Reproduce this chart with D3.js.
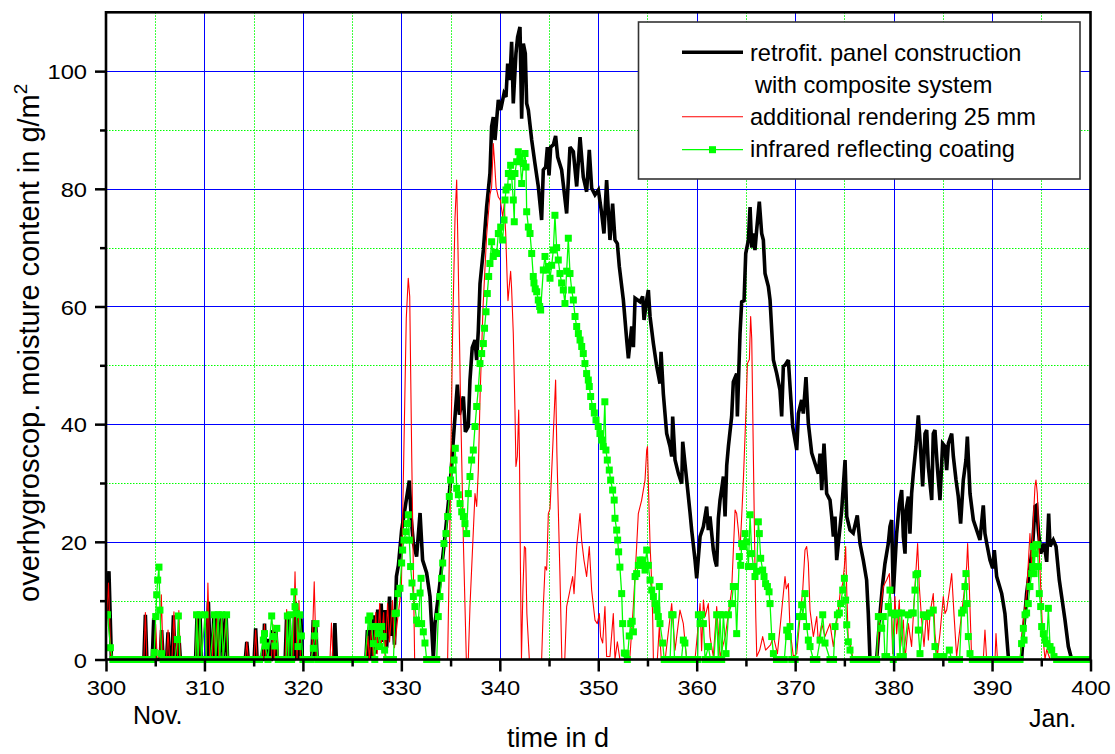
<!DOCTYPE html>
<html>
<head>
<meta charset="utf-8">
<script src="https://cdn.jsdelivr.net/npm/d3@7"></script>
<style>
  html, body { margin: 0; padding: 0; background: #ffffff; }
  svg { display: block; font-family: "Liberation Sans", Arial, Helvetica, sans-serif; }
</style>
</head>
<body>
<svg id="chart" width="1115" height="754"></svg>
<script>
// ---- data: day of year (d) and overhygroscopic moisture content (g/m²) ----
const retrofitPanel = [
  [300.0,7.6],[300.3,15.0],[300.55,0],
  [303.85,0],[304.0,7.6],[304.15,0],
  [304.7,0],[304.85,7.0],[305.0,0],
  [305.5,0],[305.65,5.0],[305.8,0],
  [306.15,0],[306.3,4.6],[306.45,0],
  [306.7,0],[306.85,7.5],[307.0,0],
  [307.25,0],[307.4,4.0],[307.55,0],
  [309.1,0],[309.25,7.6],[309.4,0],[309.55,7.6],[309.7,0],
  [310.25,0],[310.4,9.8],[310.6,0],
  [310.8,0],[310.95,7.6],[311.1,0],[311.3,7.6],[311.45,0],[311.75,7.6],[311.9,0],[312.2,7.6],[312.35,0],
  [314.15,0],[314.3,3.0],[314.45,0],
  [315.05,0],[315.2,5.3],[315.35,0],
  [315.95,0],[316.1,6.1],[316.25,0],[316.45,3.5],[316.6,0],
  [316.8,0],[316.95,5.0],[317.1,0],[317.25,5.6],[317.4,0],
  [318.2,0],[318.35,7.6],[318.5,0],[318.6,7.8],[318.75,0],
  [319.05,0],[319.2,9.8],[319.35,0],[319.5,8.4],[319.65,0],[319.8,7.0],[319.95,0],
  [320.9,0],[321.05,6.7],[321.2,0],[321.3,6.0],[321.45,0],
  [323.1,0],[323.25,6.2],[323.4,0],
  [326.4,0],[326.55,5.0],[326.7,0],[326.9,6.5],[327.05,0],[327.2,7.5],[327.35,1.0],[327.6,8.5],
  [327.75,2.0],[327.95,9.5],[328.1,3.0],[328.35,8.4],[328.5,2.0],[328.8,10.7],[328.95,4.0],
  [329.15,8.5],[329.3,2.5],[329.5,14.1],[329.7,16.0],[330.03,22.0],[330.4,26.0],[330.81,30.4],
  [331.0,24.0],[331.22,19.8],[331.55,17.5],[331.9,24.9],[332.16,16.9],[332.57,14.7],[332.91,10.7],
  [333.25,0.2],[333.42,6.2],[333.92,13.0],[334.43,20.9],[334.94,29.4],[335.35,39.0],[335.69,46.7],
  [335.89,41.6],[336.3,44.7],[336.5,38.7],[336.8,39.6],[336.97,47.5],[337.2,53.0],[337.48,54.3],
  [337.65,50.9],[337.82,56.0],[337.99,63.9],[338.33,69.6],[338.66,76.9],[339.0,82.6],[339.17,90.6],
  [339.34,92.2],[339.51,88.3],[339.85,95.1],[340.09,93.4],[340.43,96.2],[340.63,95.6],[340.8,101.3],
  [341.03,98.5],[341.2,105.0],[341.37,94.5],[341.64,103.0],[341.81,105.8],[342.05,107.5],[342.22,91.9],
  [342.39,104.7],[342.59,103.0],[342.73,94.5],[342.9,93.4],[343.24,88.3],[343.57,84.3],[343.91,80.4],
  [344.25,74.7],[344.42,83.2],[344.66,83.7],[344.83,87.1],[345.0,82.3],[345.17,87.1],[345.44,87.5],
  [345.67,89.0],[345.88,85.4],[346.28,83.2],[346.79,75.8],[347.13,87.1],[347.47,86.3],[347.81,80.4],
  [348.15,88.8],[348.48,82.0],[348.82,79.5],[349.09,86.6],[349.33,80.1],[349.67,79.0],[350.01,79.8],
  [350.35,75.8],[350.58,72.4],[350.85,81.5],[351.19,71.3],[351.46,77.5],[351.7,71.3],[351.94,70.7],
  [352.14,66.8],[352.55,61.1],[352.89,54.3],[353.06,51.2],[353.4,56.6],[353.57,53.1],[353.74,61.4],
  [354.24,60.8],[354.51,61.7],[354.65,57.7],[354.92,61.1],[355.09,62.8],[355.26,58.3],[355.6,53.7],
  [355.94,49.8],[356.27,46.9],[356.38,52.3],[356.61,45.2],[356.95,38.4],[357.29,36.2],[357.46,34.5],
  [357.56,41.3],[357.8,33.9],[358.14,31.6],[358.48,29.9],[358.58,37.0],[358.81,33.3],[359.05,29.4],
  [359.32,25.0],[359.49,22.0],[359.83,16.9],[360.0,13.8],[360.34,20.9],[360.68,22.6],[361.01,26.0],
  [361.18,22.0],[361.35,24.3],[361.69,18.6],[361.86,16.9],[362.03,15.8],[362.2,24.0],[362.37,27.1],
  [362.54,29.0],[362.71,31.1],[362.88,24.3],[363.05,33.0],[363.22,36.2],[363.55,41.3],[363.72,47.2],
  [364.06,48.6],[364.13,41.3],[364.4,55.4],[364.57,60.8],[364.81,61.0],[364.98,69.0],[365.25,71.3],
  [365.42,76.9],[365.59,70.0],[365.76,72.4],[365.92,69.6],[366.09,73.0],[366.36,77.8],[366.6,72.4],
  [366.77,71.3],[366.94,65.6],[367.28,63.4],[367.45,61.1],[367.62,56.0],[367.79,50.9],[368.13,48.6],
  [368.46,45.8],[368.63,41.3],[368.8,49.8],[368.97,50.0],[369.31,50.9],[369.48,46.4],[369.75,39.6],
  [370.16,35.6],[370.33,41.8],[370.66,44.1],[370.83,41.8],[371.1,48.0],[371.34,40.1],[371.68,35.1],
  [372.02,33.3],[372.36,31.6],[372.53,35.0],[372.7,28.8],[372.93,36.7],[373.2,28.2],[373.54,27.1],
  [373.71,24.3],[373.88,20.9],[374.05,24.3],[374.22,16.9],[374.39,19.7],[374.73,25.4],[375.07,33.9],
  [375.24,24.3],[375.57,22.0],[375.9,21.5],[376.31,24.5],[376.59,19.7],[376.92,16.9],[377.26,13.5],
  [377.43,7.8],[377.6,0],[378.28,0],[378.62,7.8],[378.89,12.9],[379.12,16.3],[379.29,18.0],
  [379.46,19.7],[379.63,22.6],[379.8,23.7],[379.97,11.2],[380.31,21.4],[380.58,26.5],[380.82,28.8],
  [380.99,20.9],[381.16,18.0],[381.26,25.4],[381.5,27.7],[381.66,21.4],[381.83,28.2],[382.0,31.6],
  [382.27,36.2],[382.51,41.5],[382.75,35.6],[382.95,29.4],[383.19,38.4],[383.36,39.0],[383.53,32.8],
  [383.87,27.1],[384.03,38.4],[384.2,39.0],[384.44,32.8],[384.71,27.1],[384.98,36.7],[385.22,36.2],
  [385.39,32.2],[385.56,36.7],[385.9,38.4],[386.07,34.5],[386.34,30.5],[386.57,27.7],[386.81,23.1],
  [387.08,30.5],[387.35,33.9],[387.49,37.9],[387.76,28.2],[388.1,23.7],[388.44,22.0],[388.77,20.3],
  [389.11,26.2],[389.28,21.4],[389.52,19.2],[389.79,16.9],[390.06,15.5],[390.23,18.6],[390.47,14.1],
  [390.98,11.2],[391.31,7.8],[391.65,0.5],[391.82,0],[393.0,0],[393.18,4.4],[393.51,11.2],
  [393.85,15.8],[394.12,19.2],[394.36,26.0],[394.53,26.2],[394.7,22.0],[394.94,18.0],[395.28,19.7],
  [395.55,16.6],[395.75,24.8],[395.89,19.2],[396.22,20.3],[396.5,19.2],[396.83,13.5],[397.07,10.7],
  [397.41,6.7],[397.75,2.2],[398.09,0],[400.0,0]
];

const additionalRendering = [
  [300.0,5.0],[300.25,13.0],[300.5,0],
  [303.85,0],[304.0,8.0],[304.15,0],
  [304.9,0],[305.05,6.0],[305.2,0],[305.45,0],[305.62,11.0],[305.8,0],
  [306.15,0],[306.3,5.0],[306.45,0],[306.7,0],[306.9,8.1],[307.05,0],[307.25,0],[307.4,8.3],[307.55,0],
  [309.1,0],[309.25,7.6],[309.4,0],[309.55,7.6],[309.7,0],
  [310.2,0],[310.35,13.0],[310.55,0],
  [310.8,0],[310.95,7.6],[311.1,0],[311.3,8.0],[311.45,0],[311.75,7.6],[311.9,0],[312.2,8.0],[312.35,0],
  [314.15,0],[314.3,3.0],[314.45,0],
  [315.05,0],[315.2,5.0],[315.35,0],
  [315.95,0],[316.1,6.0],[316.25,0],
  [316.8,0],[316.95,6.0],[317.1,0],[317.3,5.0],[317.45,0],
  [318.2,0],[318.35,8.5],[318.5,0],
  [319.0,0],[319.2,14.9],[319.4,0],[319.6,10.0],[319.75,0],
  [320.9,0],[321.15,13.2],[321.35,0],
  [322.75,0],[322.9,6.2],[323.05,0],
  [326.4,0],[326.6,4.0],[326.75,0],[327.0,6.0],[327.15,0],[327.4,8.0],[327.55,1.0],[327.8,9.5],
  [327.95,2.0],[328.2,8.0],[328.35,0],[328.6,9.5],[328.8,3.0],[329.1,10.0],[329.3,2.0],[329.5,5.0],
  [329.7,8.0],[330.0,12.0],[330.25,35.0],[330.5,58.0],[330.7,64.8],[330.85,61.7],[331.05,35.0],[331.35,0],
  [334.7,0],[334.95,25.0],[335.2,55.0],[335.45,75.0],[335.62,81.5],[335.75,70.0],[336.0,45.0],
  [336.3,20.0],[336.6,0],[336.8,0],[336.97,9.0],[337.48,28.2],[337.65,26.0],[337.82,32.2],
  [338.0,45.0],[338.3,60.0],[338.66,72.0],[339.0,79.0],[339.17,80.3],[339.34,87.7],[339.45,85.0],
  [339.62,80.3],[339.85,78.6],[340.05,78.1],[340.3,75.2],[340.45,77.5],[340.6,72.4],[340.75,64.5],
  [340.83,61.0],[341.1,66.0],[341.2,63.0],[341.37,55.4],[341.54,42.4],[341.64,32.8],[341.78,34.5],
  [341.92,42.4],[342.0,34.5],[342.1,15.0],[342.2,0],[342.35,12.0],[342.5,19.2],[342.62,18.9],
  [342.75,7.8],[343.0,0],
  [344.25,0],[344.42,9.0],[344.6,15.8],[344.76,15.2],[344.93,24.8],[345.1,25.6],[345.35,35.0],
  [345.67,47.5],[345.8,35.0],[346.1,15.0],[346.3,0],
  [346.6,0],[346.79,9.0],[347.13,11.8],[347.4,14.1],[347.54,11.2],[347.81,19.2],[348.15,24.8],
  [348.31,20.3],[348.55,16.9],[348.82,14.1],[349.09,19.2],[349.33,11.8],[349.67,6.7],[349.9,6.1],
  [350.11,7.8],[350.24,3.9],[350.45,2.8],[350.68,9.0],[350.85,0.5],[351.19,0.5],[351.53,7.8],
  [351.7,0],[351.94,3.0],[352.2,0],
  [353.2,0],[353.56,9.0],[353.9,19.2],[354.07,24.8],[354.41,27.1],[354.75,30.5],[354.92,35.6],
  [355.0,36.2],[355.09,30.0],[355.26,19.7],[355.43,13.0],[355.53,7.0],[355.6,0],
  [356.0,0],[356.2,5.5],[356.4,0],[356.8,0],[357.0,3.0],[357.46,9.5],[357.8,1.6],[358.3,8.4],
  [358.64,6.1],[358.98,0],[359.83,0],[360.17,6.1],[360.34,9.5],[360.5,1.5],[360.68,10.1],
  [360.85,7.3],[361.18,9.5],[361.35,3.9],[361.69,0.5],[362.03,9.0],[362.37,0.5],[362.9,3.9],
  [363.55,11.8],[363.9,25.4],[364.06,24.8],[364.23,22.0],[364.4,18.6],[364.57,24.3],[364.74,30.5],
  [365.01,42.4],[365.15,50.3],[365.35,51.0],[365.48,58.3],[365.59,54.5],[365.69,42.4],[365.82,27.1],
  [365.9,18.0],[366.0,7.3],[366.1,0.5],[366.4,1.6],[366.7,3.9],[367.0,1.6],[367.5,2.5],[367.79,3.9],
  [368.2,1.0],[368.5,6.0],[368.97,14.1],[369.1,12.0],[369.31,12.9],[369.48,5.0],[369.82,0.5],
  [370.16,1.0],[370.5,7.3],[370.77,11.8],[371.0,18.6],[371.17,19.2],[371.34,16.4],[371.51,8.4],
  [371.85,3.9],[372.19,7.3],[372.36,2.8],[372.7,6.1],[373.03,3.9],[373.54,6.1],[373.88,2.2],
  [374.39,8.4],[374.56,11.2],[374.83,12.9],[375.0,15.8],[375.13,19.2],[375.24,11.8],[375.4,2.8],
  [375.6,2.5],[375.9,0],
  [378.3,0],[378.62,7.8],[378.96,12.4],[379.29,13.5],[379.57,14.6],[379.8,6.7],[379.9,1.0],
  [380.14,10.7],[380.31,4.4],[380.58,10.1],[380.72,2.2],[380.99,6.7],[381.16,0],[381.5,6.1],
  [381.83,2.2],[382.17,12.4],[382.44,19.7],[382.61,12.4],[382.85,6.7],[383.09,2.2],[383.36,8.4],
  [383.53,3.3],[383.7,7.8],[384.03,11.2],[384.2,4.4],[384.44,0.5],[384.71,4.4],[385.05,10.7],
  [385.22,7.8],[385.39,8.4],[385.73,12.4],[385.9,14.6],[386.13,7.8],[386.4,0.5],[386.91,7.8],
  [387.15,11.2],[387.42,15.8],[387.52,19.7],[387.69,12.4],[387.93,0],
  [389.11,0],[389.28,5.0],[389.45,0],[390.3,0],[390.4,4.4],[390.55,0],
  [392.84,0],[393.0,3.3],[393.18,6.7],[393.51,11.2],[393.85,21.4],[394.02,15.8],[394.19,23.7],
  [394.36,29.4],[394.46,30.5],[394.6,28.2],[394.8,18.0],[394.94,12.4],[395.14,4.4],[395.38,0],
  [395.55,1.7],[395.9,0],[400.0,0]
];

const infraredCoating = [
  [300.0,7.6],[300.15,7.6],[300.45,2.0],[300.7,0],[301.1,0],[301.5,0],[301.9,0],[302.3,0],[302.7,0],
  [303.1,0],[303.5,0],[303.9,0],[304.3,0],[304.7,0],[304.9,1.2],[305.05,7.3],[305.15,11.0],
  [305.25,13.5],[305.38,15.7],[305.48,8.4],[305.65,1.0],[305.8,0],[306.2,0],[306.6,0],[307.0,0],
  [307.25,3.4],[307.35,7.4],[307.5,0],[307.9,0],[308.3,0],[308.7,0],[309.1,0],[309.2,7.6],
  [309.35,0],[309.55,7.6],[309.7,0],[310.06,7.6],[310.2,0],[310.6,0],[311.0,7.6],[311.15,0],
  [311.4,7.6],[311.55,0],[311.75,7.6],[311.9,0],[312.25,7.6],[312.4,0],[312.8,0],[313.2,0],
  [313.6,0],[314.0,0],[314.4,0],[314.8,0],[315.2,0],[315.6,0],[315.98,3.3],[316.1,4.4],[316.2,2.3],
  [316.45,0],[316.83,7.4],[317.0,3.9],[317.15,2.3],[317.35,5.3],[317.5,0],[317.9,0],[318.3,0],
  [318.42,7.4],[318.55,0],[318.7,7.6],[318.85,0],[319.1,11.5],[319.2,9.0],[319.35,7.8],[319.5,2.2],
  [319.7,7.6],[319.85,4.0],[320.0,0],[320.4,0],[320.8,0],[321.06,1.9],[321.2,4.0],[321.33,6.1],
  [321.5,0],[321.9,0],[322.3,0],[322.7,0],[323.1,0],[323.5,0],[323.9,0],[324.3,0],[324.7,0],
  [325.1,0],[325.5,0],[325.9,0],[326.3,0],[326.65,6.7],[326.8,7.4],[327.0,5.6],[327.15,2.7],
  [327.3,0],[327.5,5.6],[327.65,4.4],[327.8,2.2],[328.0,5.6],[328.15,3.9],[328.3,1.6],[328.5,0],
  [328.85,0],[329.2,0],[329.36,7.8],[329.5,7.9],[329.65,11.2],[329.86,12.1],[330.03,16.4],
  [330.13,18.6],[330.27,20.3],[330.47,21.7],[330.6,23.1],[330.71,24.6],[330.81,20.3],[330.94,15.8],
  [331.08,13.0],[331.22,10.7],[331.38,9.0],[331.55,6.7],[331.72,6.1],[331.9,11.3],[332.0,13.8],
  [332.06,6.1],[332.23,4.7],[332.4,2.8],[332.57,0],[332.9,0],[333.25,0],[333.59,0],[333.75,7.3],
  [333.92,10.7],[334.09,13.8],[334.2,16.4],[334.33,19.7],[334.53,21.4],[334.7,24.3],[334.87,27.7],
  [335.0,30.5],[335.2,32.2],[335.35,33.9],[335.48,35.9],[335.62,29.1],[335.79,28.0],[335.96,26.5],
  [336.13,25.1],[336.3,24.3],[336.46,23.1],[336.63,21.4],[336.8,28.2],[336.97,31.1],[337.14,33.9],
  [337.31,35.6],[337.48,39.6],[337.65,43.0],[337.82,46.1],[337.99,50.3],[338.16,52.0],[338.33,53.7],
  [338.45,56.3],[338.6,59.1],[338.73,62.2],[338.87,65.1],[339.0,67.3],[339.17,71.0],[339.34,68.5],
  [339.51,69.2],[339.68,69.0],[339.85,72.4],[340.09,73.5],[340.29,71.3],[340.43,74.7],[340.53,78.1],
  [340.63,79.8],[340.8,80.3],[340.87,82.6],[341.1,84.0],[341.2,82.1],[341.37,78.1],[341.47,74.4],
  [341.54,82.6],[341.71,84.6],[341.88,86.3],[342.05,85.4],[342.22,80.9],[342.39,84.3],[342.56,86.0],
  [342.66,83.7],[342.73,76.1],[342.9,73.5],[343.07,72.4],[343.24,69.0],[343.4,65.1],[343.47,64.0],
  [343.6,63.0],[343.75,62.5],[343.91,61.1],[344.05,60.0],[344.15,59.4],[344.42,66.2],[344.59,68.5],
  [344.76,66.2],[344.93,66.8],[345.1,64.8],[345.27,67.0],[345.44,69.6],[345.6,75.5],[345.77,70.0],
  [345.94,67.9],[346.11,65.6],[346.28,64.0],[346.45,62.8],[346.62,60.5],[346.79,66.0],[346.96,71.6],
  [347.13,65.6],[347.3,62.8],[347.47,61.1],[347.64,58.3],[347.81,56.6],[347.98,55.4],[348.15,54.3],
  [348.32,53.2],[348.48,52.0],[348.65,50.3],[348.82,48.6],[348.99,47.5],[349.09,46.4],[349.23,44.7],
  [349.43,43.0],[349.6,41.9],[349.77,40.7],[350.0,39.6],[350.17,38.4],[350.35,37.3],[350.5,36.2],
  [350.67,43.8],[350.78,35.6],[350.92,33.9],[351.12,32.2],[351.26,30.5],[351.46,28.8],[351.62,27.1],
  [351.7,24.0],[351.87,22.0],[351.97,20.3],[352.07,18.3],[352.2,15.7],[352.38,11.2],[352.48,6.1],
  [352.65,1.1],[352.82,1.0],[352.95,0],[353.15,4.0],[353.3,6.1],[353.45,6.5],[353.57,4.7],
  [353.74,14.1],[353.9,14.6],[354.07,16.0],[354.24,16.9],[354.41,16.0],[354.5,16.9],[354.75,15.2],
  [354.92,18.6],[355.09,16.0],[355.26,13.5],[355.43,11.8],[355.6,10.7],[355.77,9.5],[355.94,8.4],
  [356.1,7.3],[356.2,12.4],[356.27,6.1],[356.55,2.8],[356.7,0],[357.0,0],[357.3,0],[357.46,7.6],
  [357.6,7.6],[357.75,0],[358.1,0],[358.45,0],[358.64,3.3],[358.8,2.8],[359.0,0],[359.4,0],
  [359.8,0],[360.1,0],[360.17,7.6],[360.34,6.1],[360.5,7.6],[360.68,6.1],[360.85,0],[361.18,2.2],
  [361.4,0],[361.75,0],[362.03,7.6],[362.2,0],[362.37,7.6],[362.54,0],[362.71,7.6],[362.98,1.0],
  [363.22,7.6],[363.55,9.5],[363.72,12.4],[363.89,12.4],[364.06,4.4],[364.33,17.5],[364.47,16.0],
  [364.57,19.7],[364.74,19.2],[364.91,21.4],[365.08,20.0],[365.25,15.8],[365.42,24.6],[365.59,18.0],
  [365.76,15.8],[365.92,14.1],[366.09,15.0],[366.26,23.4],[366.36,21.4],[366.5,17.2],[366.7,15.2],
  [366.84,14.1],[367.0,12.9],[367.18,12.4],[367.35,11.5],[367.45,9.5],[367.62,3.9],[367.79,1.0],
  [368.1,0],[368.5,0],[368.9,0],[369.14,5.0],[369.31,3.9],[369.48,5.6],[369.65,0],[370.0,0],
  [370.43,7.3],[370.66,9.3],[370.77,7.3],[371.0,11.2],[371.17,5.6],[371.34,3.3],[371.51,2.2],
  [371.85,0],[372.2,0],[372.53,3.3],[372.8,7.6],[373.03,2.8],[373.54,0],[373.9,0],[374.05,5.6],
  [374.29,7.6],[374.49,7.9],[374.62,9.5],[374.83,11.8],[375.0,13.8],[375.13,10.1],[375.24,5.9],
  [375.4,3.0],[375.57,1.6],[375.9,0],[376.3,0],[376.7,0],[377.1,0],[377.5,0],[377.9,0],[378.28,0],
  [378.45,7.3],[378.79,5.3],[378.96,7.3],[379.12,0.5],[379.29,0.5],[379.46,9.0],[379.63,11.8],
  [379.8,7.9],[379.97,0],[380.14,7.6],[380.48,7.9],[380.65,0.5],[380.82,7.9],[380.99,0.5],
  [381.5,7.6],[381.83,7.9],[382.0,7.9],[382.17,11.8],[382.27,14.4],[382.44,14.6],[382.51,5.0],
  [382.68,1.0],[383.02,7.6],[383.36,7.3],[383.7,7.9],[384.03,8.4],[384.2,2.2],[384.37,0.5],
  [384.8,0.5],[385.12,0.5],[385.66,1.6],[385.9,0],[386.3,0],[386.7,0],[386.91,7.9],[387.08,8.4],
  [387.25,12.4],[387.35,14.6],[387.45,9.5],[387.59,3.9],[387.76,1.0],[388.0,0],[388.4,0],[388.8,0],
  [389.2,0],[389.6,0],[390.0,0],[390.4,0],[390.8,0],[391.2,0],[391.6,0],[392.0,0],[392.4,0],
  [392.84,0],[393.0,2.7],[393.18,5.3],[393.25,3.3],[393.35,7.6],[393.51,7.9],[393.68,9.5],
  [393.85,12.4],[394.02,14.6],[394.12,15.8],[394.19,19.2],[394.27,14.6],[394.36,18.0],[394.46,19.5],
  [394.6,19.5],[394.7,15.8],[394.8,11.2],[394.94,9.0],[395.04,5.6],[395.21,4.4],[395.38,3.3],
  [395.55,2.7],[395.72,8.7],[395.89,2.2],[396.06,1.6],[396.29,0.5],[396.56,0],[396.9,0],[397.3,0],
  [397.7,0],[398.1,0],[398.5,0],[398.9,0],[399.3,0],[399.7,0],[400.0,0]
];

const xMajorTicks = [300, 310, 320, 330, 340, 350, 360, 370, 380, 390, 400];
const xMinorTicks = [305, 315, 325, 335, 345, 355, 365, 375, 385, 395];
const yMajorTicks = [0, 20, 40, 60, 80, 100];
const yMinorTicks = [10, 30, 50, 70, 90];
const legendLabels = ["retrofit. panel construction", "with composite system",
                      "additional rendering 25 mm", "infrared reflecting coating"];
const monthLabels = ["Nov.", "Jan."];

// ---- layout ----
const svg = d3.select("#chart");
const plot = { left: 106, right: 1090.5, top: 12.3, bottom: 659.5 };
const x = d3.scaleLinear().domain([300, 400]).range([plot.left, plot.right]);
const y = d3.scaleLinear().domain([0, 110]).range([plot.bottom, plot.top]);
const GREEN = "#00ff00", RED = "#ff0000", BLUE = "#0000ff";
const labelStretch = 1.13;

// ---- grid ----
const grid = svg.append("g");
grid.selectAll(".gx-minor").data(xMinorTicks).join("line")
  .attr("x1", d => Math.round(x(d)) + 0.5).attr("x2", d => Math.round(x(d)) + 0.5)
  .attr("y1", plot.top).attr("y2", plot.bottom)
  .attr("stroke", GREEN).attr("stroke-width", 1).attr("stroke-dasharray", "1.5,1.5");
grid.selectAll(".gy-minor").data(yMinorTicks).join("line")
  .attr("x1", plot.left).attr("x2", plot.right)
  .attr("y1", d => Math.round(y(d)) + 0.5).attr("y2", d => Math.round(y(d)) + 0.5)
  .attr("stroke", GREEN).attr("stroke-width", 1).attr("stroke-dasharray", "1.5,1.5");
grid.selectAll(".gx-major").data(xMajorTicks.slice(1, -1)).join("line")
  .attr("x1", d => Math.round(x(d)) + 0.5).attr("x2", d => Math.round(x(d)) + 0.5)
  .attr("y1", plot.top).attr("y2", plot.bottom)
  .attr("stroke", BLUE).attr("stroke-width", 1);
grid.selectAll(".gy-major").data(yMajorTicks.slice(1)).join("line")
  .attr("x1", plot.left).attr("x2", plot.right)
  .attr("y1", d => Math.round(y(d)) + 0.5).attr("y2", d => Math.round(y(d)) + 0.5)
  .attr("stroke", BLUE).attr("stroke-width", 1);

// ---- series ----
svg.append("clipPath").attr("id", "plotClip").append("rect")
  .attr("x", plot.left).attr("y", plot.top)
  .attr("width", plot.right - plot.left).attr("height", plot.bottom - plot.top + 4);

const line = d3.line().x(d => x(d[0])).y(d => y(d[1]));
const series = svg.append("g").attr("clip-path", "url(#plotClip)");

series.append("path").datum(retrofitPanel).attr("d", line)
  .attr("fill", "none").attr("stroke", "#000").attr("stroke-width", 3.6)
  .attr("stroke-linejoin", "miter").attr("stroke-miterlimit", 3);

series.append("path").datum(additionalRendering).attr("d", line)
  .attr("fill", "none").attr("stroke", RED).attr("stroke-width", 1.1)
  .attr("stroke-linejoin", "round");

series.append("path").datum(infraredCoating).attr("d", line)
  .attr("fill", "none").attr("stroke", GREEN).attr("stroke-width", 1.3)
  .attr("stroke-linejoin", "round");

const MS = 7;
series.append("g").selectAll("rect").data(infraredCoating).join("rect")
  .attr("x", d => x(d[0]) - MS / 2).attr("y", d => y(d[1]) - MS / 2)
  .attr("width", MS).attr("height", MS).attr("fill", GREEN);

// ---- axes ----
const xAxisMajor = svg.append("g").attr("transform", `translate(0,${plot.bottom})`)
  .call(d3.axisBottom(x).tickValues(xMajorTicks).tickSize(12).tickSizeOuter(0).tickFormat(d3.format("d")));
const xAxisMinor = svg.append("g").attr("transform", `translate(0,${plot.bottom})`)
  .call(d3.axisBottom(x).tickValues(xMinorTicks).tickSize(7).tickSizeOuter(0).tickFormat(""));
const yAxisMajor = svg.append("g").attr("transform", `translate(${plot.left},0)`)
  .call(d3.axisLeft(y).tickValues(yMajorTicks).tickSize(11).tickSizeOuter(0).tickFormat(d3.format("d")));
const yAxisMinor = svg.append("g").attr("transform", `translate(${plot.left},0)`)
  .call(d3.axisLeft(y).tickValues(yMinorTicks).tickSize(6).tickSizeOuter(0).tickFormat(""));

[xAxisMajor, xAxisMinor, yAxisMajor, yAxisMinor].forEach(a => {
  a.select(".domain").remove();
  a.selectAll(".tick line").attr("stroke", "#000").attr("stroke-width", 2.5);
});
xAxisMajor.selectAll(".tick text")
  .attr("y", 21).attr("dy", "0.71em")
  .attr("transform", `scale(${labelStretch},1)`)
  .attr("font-family", "'Liberation Sans', Arial, sans-serif")
  .attr("font-size", 21).attr("fill", "#000");
yAxisMajor.selectAll(".tick text")
  .attr("x", -19 / labelStretch).attr("dy", "0.36em")
  .attr("transform", `scale(${labelStretch},1)`)
  .attr("font-family", "'Liberation Sans', Arial, sans-serif")
  .attr("font-size", 21).attr("fill", "#000");

// ---- frame ----
svg.append("rect")
  .attr("x", plot.left).attr("y", plot.top)
  .attr("width", plot.right - plot.left).attr("height", plot.bottom - plot.top)
  .attr("fill", "none").attr("stroke", "#000").attr("stroke-width", 2.6);

// ---- axis titles ----
svg.append("text").attr("x", 558).attr("y", 747)
  .attr("text-anchor", "middle").attr("font-size", 27).attr("fill", "#000")
  .text("time in d");
svg.append("text").attr("x", 133).attr("y", 724)
  .attr("font-size", 25).attr("fill", "#000").text(monthLabels[0]);
svg.append("text").attr("x", 1029).attr("y", 727)
  .attr("font-size", 25).attr("fill", "#000").text(monthLabels[1]);

const yTitle = svg.append("text")
  .attr("transform", "translate(39,602) rotate(-90)")
  .attr("text-anchor", "start").attr("font-size", 29).attr("fill", "#000");
yTitle.append("tspan").text("overhygroscop. moisture content in g/m");
yTitle.append("tspan").attr("dy", -12).attr("font-size", 19).text("2");

// ---- legend ----
const lg = svg.append("g");
lg.append("rect").attr("x", 638.5).attr("y", 22).attr("width", 441.5).attr("height", 157)
  .attr("fill", "#fff").attr("stroke", "#333").attr("stroke-width", 1.6);
const sampleX1 = 682, sampleX2 = 743;
lg.append("line").attr("x1", sampleX1).attr("x2", sampleX2).attr("y1", 52.3).attr("y2", 52.3)
  .attr("stroke", "#000").attr("stroke-width", 3.4);
lg.append("line").attr("x1", sampleX1).attr("x2", sampleX2).attr("y1", 116.7).attr("y2", 116.7)
  .attr("stroke", RED).attr("stroke-width", 1.1);
lg.append("line").attr("x1", sampleX1).attr("x2", sampleX2).attr("y1", 149.7).attr("y2", 149.7)
  .attr("stroke", GREEN).attr("stroke-width", 1.3);
lg.append("rect").attr("x", (sampleX1 + sampleX2) / 2 - MS / 2).attr("y", 149.7 - MS / 2)
  .attr("width", MS).attr("height", MS).attr("fill", GREEN);
const legendText = [[750, 61], [755, 92.7], [750, 125.3], [750, 156.7]];
lg.selectAll("text.lab").data(legendLabels).join("text")
  .attr("x", (d, i) => legendText[i][0]).attr("y", (d, i) => legendText[i][1])
  .attr("font-size", 23.6).attr("fill", "#000").text(d => d);
</script>
</body>
</html>
